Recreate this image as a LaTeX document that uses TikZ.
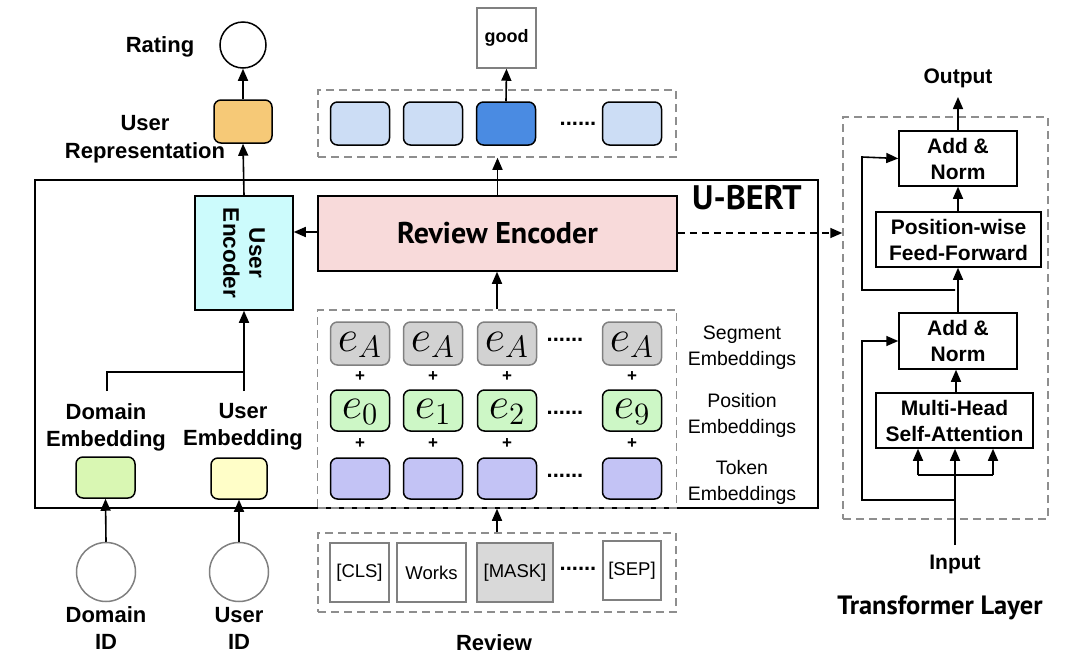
\documentclass[tikz,border=0pt]{standalone}
\usepackage{fontspec}
\setmainfont{Liberation Sans}
\newfontfamily\titlefont{PT Sans}
\usetikzlibrary{arrows.meta}
\definecolor{corange}{HTML}{F6C977}
\definecolor{ccyan}{HTML}{CCFBFC}
\definecolor{cpink}{HTML}{F8DADA}
\definecolor{clblue}{HTML}{CCDDF5}
\definecolor{cdblue}{HTML}{4A8BE2}
\definecolor{cseg}{HTML}{D2D2D2}
\definecolor{cgreen}{HTML}{CDF7C6}
\definecolor{cpurple}{HTML}{C3C3F5}
\definecolor{cdom}{HTML}{D9F7B3}
\definecolor{cuser}{HTML}{FFFEC8}
\definecolor{cmask}{HTML}{D9D9D9}
\definecolor{cdash}{HTML}{8E8E8E}
\newcommand{\embsym}[1]{\smash{{\fontsize{20}{20}\selectfont\scalebox{2.15}{$#1$}}}}
\tikzset{
  lab/.style={font=\fontsize{22}{27}\selectfont\bfseries, align=center, inner sep=0pt},
  sublab/.style={font=\fontsize{19.5}{26}\selectfont, align=center, inner sep=0pt},
  rbox/.style={draw, line width=1.5pt, rounded corners=7pt, minimum width=59pt, minimum height=43pt, inner sep=0pt},
  tok/.style={draw=gray, line width=1.5pt, minimum width=59pt, minimum height=59pt, inner sep=0pt, font=\fontsize{18.5}{18.5}\selectfont},
  dbox/.style={draw=cdash, line width=1.5pt, dash pattern=on 8pt off 5pt, inner sep=0pt},
  tbox/.style={draw, line width=1.5pt, inner sep=0pt, align=center, font=\fontsize{21}{26}\selectfont\bfseries},
  arr/.style={line width=1.6pt, -{Triangle[length=12pt,width=10pt]}},
  ln/.style={line width=1.6pt},
  dots/.style={font=\fontsize{22}{22}\selectfont\bfseries, inner sep=0pt},
  plus/.style={font=\fontsize{17}{17}\selectfont\bfseries, inner sep=0pt},
  emath/.style={inner sep=0pt, anchor=base, text height=18pt, text depth=8pt},
}
\begin{document}
\begin{tikzpicture}[x=1pt,y=-1pt]
\useasboundingbox (0,0) rectangle (1080,667);
% ---------- left column ----------
\node[draw, line width=1.5pt, circle, minimum size=46pt, inner sep=0pt] (rating) at (243,45) {};
\node[lab] (ratinglab) at (160,47) {Rating};
\node[rbox, fill=corange, minimum width=58pt] (urep) at (243,121.5) {};
\node[lab, font=\fontsize{22}{28}\selectfont\bfseries] (ureplab) at (145,139) {User\\Representation};
% U-BERT frame
\node[draw, line width=1.5pt, minimum width=783pt, minimum height=328pt, inner sep=0pt] (ubert) at (426.5,344) {};
\node[font=\titlefont\fontsize{34}{34}\selectfont\bfseries, inner sep=0pt] (ubertlab) at (747,198) {U-BERT};
% user encoder
\node[draw, line width=1.5pt, fill=ccyan, minimum width=98pt, minimum height=114pt, inner sep=0pt] (uenc) at (244,253) {};
\node[lab, rotate=-90, font=\fontsize{22.5}{26}\selectfont\bfseries] (uenclab) at (uenc.center) {User\\Encoder};
% review encoder
\node[draw, line width=1.5pt, fill=cpink, minimum width=359pt, minimum height=75pt, inner sep=0pt, font=\titlefont\fontsize{30}{30}\selectfont\bfseries] (renc) at (497.5,233.5) {Review Encoder};
% output row
\node[dbox, minimum width=358pt, minimum height=67pt] (outrow) at (497,123.5) {};
\node[rbox, fill=clblue] (o1) at (360,123.5) {};
\node[rbox, fill=clblue] (o2) at (433,123.5) {};
\node[rbox, fill=cdblue] (o3) at (506,123.5) {};
\node[dots] (odots) at (578,124) {......};
\node[rbox, fill=clblue] (o4) at (632,123.5) {};
\node[draw=gray, line width=1.5pt, minimum width=59pt, minimum height=60pt, inner sep=0pt, font=\fontsize{18}{18}\selectfont\bfseries] (good) at (506.5,38) {good};
% embeddings
\node[dbox, minimum width=359pt, minimum height=198pt] (embrow) at (497,409) {};
\foreach \x/\n in {360/1,433/2,507/3,632/4}{
  \node[rbox, draw=gray, fill=cseg, minimum height=43pt] (s\n) at (\x,343.5) {};
  \node[emath] (se\n) at (\x,351) {\embsym{e_A}};
  \node[plus] (p\n) at (\x,377) {+};
  \node[rbox, fill=cgreen, minimum height=41pt] (g\n) at (\x,410.5) {};
  \node[plus] (q\n) at (\x,444) {+};
  \node[rbox, fill=cpurple, minimum height=41pt] (t\n) at (\x,478.5) {};
}
\node[emath] (ge1) at (360,418) {\embsym{e_0}};
\node[emath] (ge2) at (433,418) {\embsym{e_1}};
\node[emath] (ge3) at (507,418) {\embsym{e_2}};
\node[emath] (ge4) at (632,418) {\embsym{e_9}};
\node[dots] (sdots) at (565,340) {......};
\node[dots] (gdots) at (565,413) {......};
\node[dots] (tdots) at (565,476) {......};
\node[sublab] (seglab) at (742,348) {Segment\\Embeddings};
\node[sublab] (poslab) at (742,415) {Position\\Embeddings};
\node[sublab] (toklab) at (742,482) {Token\\Embeddings};
% review tokens
\node[dbox, minimum width=358pt, minimum height=79pt] (revrow) at (497,572.5) {};
\node[tok] (cls) at (359.5,572.5) {[CLS]};
\node[tok, minimum width=69pt] (works) at (431.5,572.5) {Works};
\node[tok, fill=cmask, minimum width=76pt] (mask) at (515,572.5) {[MASK]};
\node[dots] (rdots) at (578,569) {......};
\node[tok, minimum width=58pt] (sep) at (632,570.5) {[SEP]};
\node[lab] (revlab) at (494,643) {Review};
% domain / user embeddings
\node[rbox, fill=cdom, minimum height=41pt] (demb) at (105.5,477.5) {};
\node[rbox, fill=cuser, minimum width=56pt, minimum height=41pt] (uemb) at (239,478.5) {};
\node[lab] (demblab) at (106,427) {Domain\\Embedding};
\node[lab] (uemblab) at (243,427) {User\\Embedding};
\coordinate (dtop) at (107,391);
\coordinate (utop) at (244,391);
\coordinate (join) at (244,372);
\node[draw=gray, line width=1.5pt, circle, minimum size=59pt, inner sep=0pt] (did) at (106,572) {};
\node[draw=gray, line width=1.5pt, circle, minimum size=59pt, inner sep=0pt] (uid) at (239,572) {};
\node[lab] (didlab) at (106,628) {Domain\\ID};
\node[lab] (uidlab) at (239,628) {User\\ID};
% ---------- transformer ----------
\node[dbox, minimum width=205pt, minimum height=402pt] (tfbox) at (945.5,318) {};
\node[lab, font=\fontsize{21}{21}\selectfont\bfseries] (outlab) at (958,78) {Output};
\coordinate (outend) at (958,97);
\node[tbox, minimum width=118pt, minimum height=55pt] (an1) at (958,158.5) {Add \&\\Norm};
\node[tbox, minimum width=165pt, minimum height=55pt] (ff) at (958.5,239.5) {Position-wise\\Feed-Forward};
\node[tbox, minimum width=118pt, minimum height=56pt] (an2) at (958,341) {Add \&\\Norm};
\node[tbox, minimum width=157pt, minimum height=55pt] (mh) at (954.5,420.5) {Multi-Head\\Self-Attention};
\node[lab, font=\fontsize{21}{21}\selectfont\bfseries] (inlab) at (955,564) {Input};
\coordinate (instart) at (955,545);
\node[font=\titlefont\fontsize{26.5}{26.5}\selectfont\bfseries, inner sep=0pt] (tflab) at (940,608) {Transformer Layer};
% ---------- connectors ----------
\draw[arr] (urep.north) -- (rating.south);
\draw[arr] (uenc.north) -- (urep.south);
\draw[arr] (renc.west |- 0,232) -- (uenc.east |- 0,232);
\draw[arr] (renc.north) -- (renc.north |- outrow.south);
\draw[arr] (o3.north) -- (good.south);
\draw[arr] (embrow.north) -- (renc.south -| embrow.north);
\draw[arr] (revrow.north) -- (embrow.south);
\draw[arr, dash pattern=on 7pt off 5pt] (renc.east |- 0,233) -- (tfbox.west |- 0,233);
\draw[ln] (dtop) |- (join);
\draw[arr] (utop) -- (uenc.south -| utop);
\draw[arr] (did.north) -- (demb.south);
\draw[arr] (uid.north) -- (uemb.south);
% transformer connectors
\draw[arr] (an1.north) -- (outend);
\draw[arr] (ff.north -| an1.north) -- (an1.south);
\draw[arr] (an2.north) -- (ff.south -| an2.north);
\draw[arr] (mh.north -| 956,0) -- (an2.south -| 956,0);
\draw[arr] (instart) -- (mh.south -| instart);
\draw[ln] (918,475) -- (993,475);
\draw[arr] (918,475) -- (mh.south -| 918,0);
\draw[arr] (993,475) -- (mh.south -| 993,0);
\draw[arr] (955,290) -| (862,157) -- (an1.west);
\draw[arr] (955,500) -| (862,341) -- (an2.west);
\end{tikzpicture}
\end{document}
